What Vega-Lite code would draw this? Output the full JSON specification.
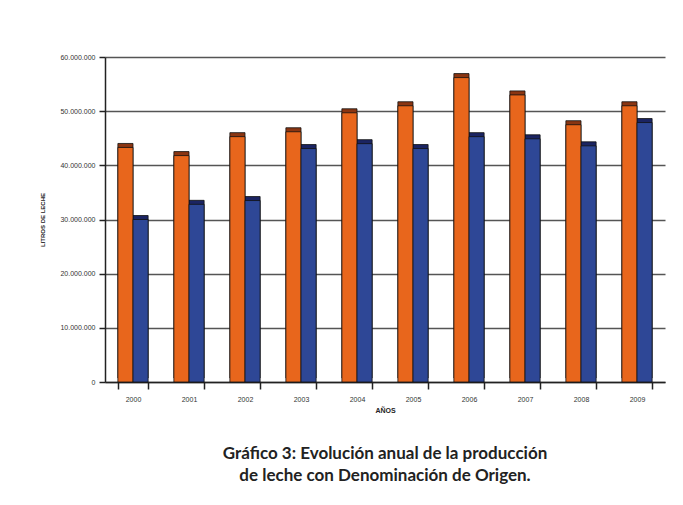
{
  "$schema": "https://vega.github.io/schema/vega-lite/v6.json",
  "autosize": "none",
  "width": 560,
  "height": 325,
  "padding": {"left": 105, "top": 57, "right": 18, "bottom": 123},
  "background": "white",
  "config": {
    "locale": {"number": {"decimal": ",", "thousands": ".", "grouping": [3], "currency": ["", " €"]}},
    "font": "Liberation Sans",
    "view": {"stroke": null},
    "title": {"font": "Lato", "fontSize": 17, "fontWeight": "bold", "color": "#222", "lineHeight": 22}
  },
  "title": {
    "text": ["Gráfico 3: Evolución anual de la producción", "de leche con Denominación de Origen."],
    "orient": "bottom",
    "anchor": "middle",
    "offset": 33
  },
  "data": {
    "values": [
      {"year": "2000", "serie": "Litros declarados", "litros": 43300000},
      {"year": "2000", "serie": "Litros utilizados", "litros": 30000000},
      {"year": "2001", "serie": "Litros declarados", "litros": 41800000},
      {"year": "2001", "serie": "Litros utilizados", "litros": 32800000},
      {"year": "2002", "serie": "Litros declarados", "litros": 45300000},
      {"year": "2002", "serie": "Litros utilizados", "litros": 33500000},
      {"year": "2003", "serie": "Litros declarados", "litros": 46200000},
      {"year": "2003", "serie": "Litros utilizados", "litros": 43100000},
      {"year": "2004", "serie": "Litros declarados", "litros": 49700000},
      {"year": "2004", "serie": "Litros utilizados", "litros": 44000000},
      {"year": "2005", "serie": "Litros declarados", "litros": 51000000},
      {"year": "2005", "serie": "Litros utilizados", "litros": 43100000},
      {"year": "2006", "serie": "Litros declarados", "litros": 56200000},
      {"year": "2006", "serie": "Litros utilizados", "litros": 45300000},
      {"year": "2007", "serie": "Litros declarados", "litros": 53000000},
      {"year": "2007", "serie": "Litros utilizados", "litros": 44900000},
      {"year": "2008", "serie": "Litros declarados", "litros": 47500000},
      {"year": "2008", "serie": "Litros utilizados", "litros": 43600000},
      {"year": "2009", "serie": "Litros declarados", "litros": 51000000},
      {"year": "2009", "serie": "Litros utilizados", "litros": 47900000}
    ]
  },
  "encoding": {
    "x": {
      "field": "year", "type": "nominal",
      "scale": {"paddingInner": 0.46, "paddingOuter": 0.23},
      "axis": {
        "title": "AÑOS", "titleFontSize": 7, "titleFontWeight": "bold", "titleColor": "#222", "titlePadding": 4,
        "labelAngle": 0, "labelFontSize": 7, "labelColor": "#333", "labelPadding": 6,
        "domainColor": "#222", "domainWidth": 1.5, "tickColor": "#222", "tickWidth": 1.5, "tickSize": 7, "tickBand": "extent"
      }
    },
    "xOffset": {"field": "serie", "type": "nominal", "scale": {"paddingInner": 0}},
    "y": {
      "field": "litros", "type": "quantitative",
      "scale": {"domain": [0, 60000000]},
      "axis": {
        "title": "LITROS DE LECHE", "titleFontSize": 6, "titleFontWeight": "bold", "titleColor": "#222", "titlePadding": 14,
        "values": [0, 10000000, 20000000, 30000000, 40000000, 50000000, 60000000],
        "format": ",.0f", "labelFontSize": 7, "labelColor": "#333", "labelPadding": 4,
        "domainColor": "#222", "domainWidth": 1.5, "tickColor": "#222", "tickWidth": 1.5, "tickSize": 6,
        "grid": true, "gridColor": "#555", "gridWidth": 1.5
      }
    }
  },
  "layer": [
    {
      "mark": {"type": "bar", "xOffset": 4, "yOffset": -4, "stroke": "#111", "strokeWidth": 0.8},
      "encoding": {
        "color": {
          "field": "serie", "type": "nominal",
          "scale": {"domain": ["Litros declarados", "Litros utilizados"], "range": ["#8a3512", "#1b2462"]},
          "legend": null
        }
      }
    },
    {
      "mark": {"type": "bar", "stroke": "#111", "strokeWidth": 0.8},
      "encoding": {
        "fill": {
          "field": "serie", "type": "nominal",
          "scale": {"domain": ["Litros declarados", "Litros utilizados"], "range": ["#e8661c", "#2e4796"]},
          "legend": {
            "title": null, "orient": "none", "direction": "horizontal",
            "legendX": 168, "legendY": -32,
            "symbolType": "square", "symbolSize": 30, "symbolStrokeColor": "#111", "symbolStrokeWidth": 0.8,
            "labelFontSize": 7, "labelFontWeight": "bold", "labelColor": "#111", "columnPadding": 8,
            "strokeColor": "#111", "strokeWidth": 1, "padding": 2, "fillColor": "white"
          }
        }
      }
    }
  ]
}
